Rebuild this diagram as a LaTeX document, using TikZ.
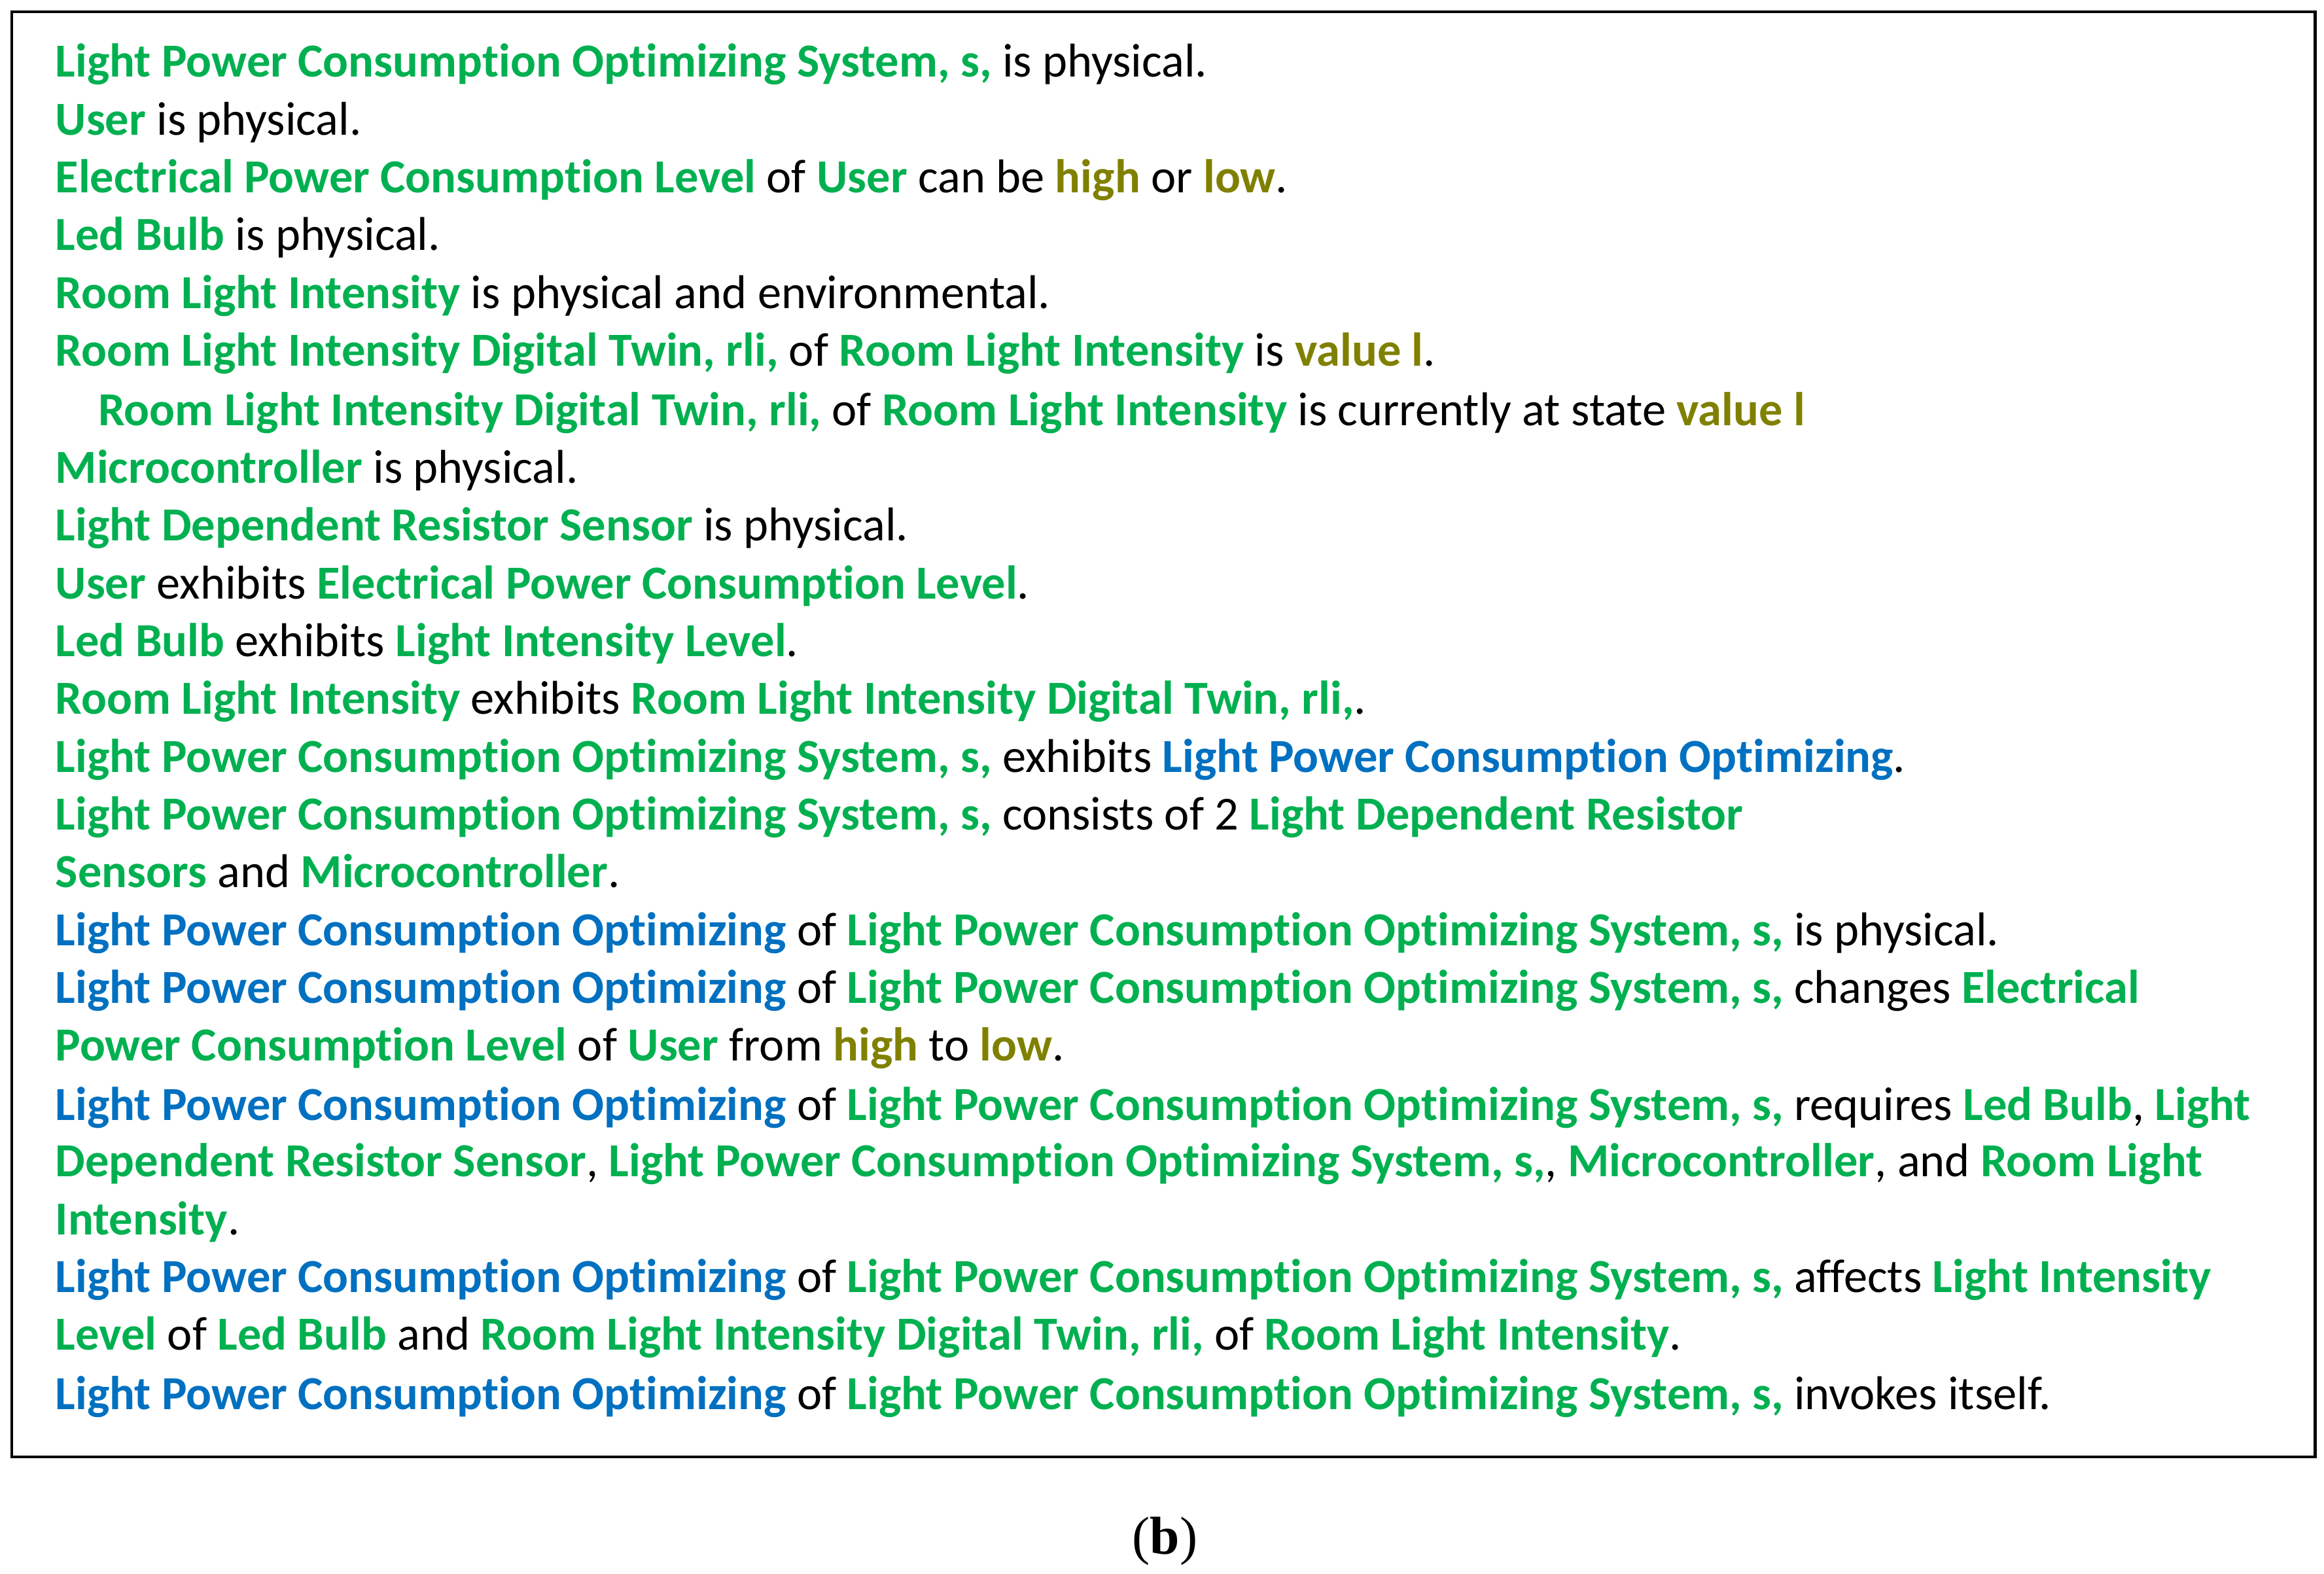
\documentclass[tikz,border=0pt]{standalone}
\usepackage{fontspec}
\setmainfont{Carlito}[RawFeature=-liga]
\newfontfamily\capfont{Liberation Serif}
\definecolor{cgrn}{RGB}{0,176,80}
\definecolor{cblu}{RGB}{0,112,192}
\definecolor{colv}{RGB}{128,128,0}
\newcommand{\grn}[1]{\textcolor{cgrn}{\textbf{#1}}}
\newcommand{\blu}[1]{\textcolor{cblu}{\textbf{#1}}}
\newcommand{\olv}[1]{\textcolor{colv}{\textbf{#1}}}
\begin{document}
\begin{tikzpicture}[x=0.5pt,y=-0.5pt,
  ln/.style={anchor=base west,inner sep=0pt,font=\fontsize{16}{18}\selectfont}]
\useasboundingbox (0,0) rectangle (1568,1062);
\draw[line width=1pt] (8,8) rectangle (1562,983);
\def\LPS{\grn{Light Power Consumption Optimizing System, s,}}
\def\LPO{\blu{Light Power Consumption Optimizing}}
\node[ln] (l1) at (37,52) {\LPS{} is physical.};
\node[ln] (l2) at (37,91) {\grn{User} is physical.};
\node[ln] (l3) at (37,130) {\grn{Electrical Power Consumption Level} of \grn{User} can be \olv{high} or \olv{low}.};
\node[ln] (l4) at (37,169) {\grn{Led Bulb} is physical.};
\node[ln] (l5) at (37,208) {\grn{Room Light Intensity} is physical and environmental.};
\node[ln] (l6) at (37,247) {\grn{Room Light Intensity Digital Twin, rli,} of \grn{Room Light Intensity} is \olv{value l}.};
\node[ln] (l7) at (66,287) {\grn{Room Light Intensity Digital Twin, rli,} of \grn{Room Light Intensity} is currently at state \olv{value l}};
\node[ln] (l8) at (37,326) {\grn{Microcontroller} is physical.};
\node[ln] (l9) at (37,365) {\grn{Light Dependent Resistor Sensor} is physical.};
\node[ln] (l10) at (37,404) {\grn{User} exhibits \grn{Electrical Power Consumption Level}.};
\node[ln] (l11) at (37,443) {\grn{Led Bulb} exhibits \grn{Light Intensity Level}.};
\node[ln] (l12) at (37,482) {\grn{Room Light Intensity} exhibits \grn{Room Light Intensity Digital Twin, rli,}.};
\node[ln] (l13) at (37,521) {\LPS{} exhibits \LPO.};
\node[ln] (l14) at (37,560) {\LPS{} consists of 2 \grn{Light Dependent Resistor}};
\node[ln] (l15) at (37,599) {\grn{Sensors} and \grn{Microcontroller}.};
\node[ln] (l16) at (37,638) {\LPO{} of \LPS{} is physical.};
\node[ln] (l17) at (37,677) {\LPO{} of \LPS{} changes \grn{Electrical}};
\node[ln] (l18) at (37,716) {\grn{Power Consumption Level} of \grn{User} from \olv{high} to \olv{low}.};
\node[ln] (l19) at (37,756) {\LPO{} of \LPS{} requires \grn{Led Bulb}, \grn{Light}};
\node[ln] (l20) at (37,794) {\grn{Dependent Resistor Sensor}, \grn{Light Power Consumption Optimizing System, s,}, \grn{Microcontroller}, and \grn{Room Light}};
\node[ln] (l21) at (37,833) {\grn{Intensity}.};
\node[ln] (l22) at (37,872) {\LPO{} of \LPS{} affects \grn{Light Intensity}};
\node[ln] (l23) at (37,911) {\grn{Level} of \grn{Led Bulb} and \grn{Room Light Intensity Digital Twin, rli,} of \grn{Room Light Intensity}.};
\node[ln] (l24) at (37,951) {\LPO{} of \LPS{} invokes itself.};
\node[inner sep=0pt,font=\capfont\fontsize{18}{20}\selectfont] (cap) at (786,1040) {(\textbf{b})};
\end{tikzpicture}
\end{document}
